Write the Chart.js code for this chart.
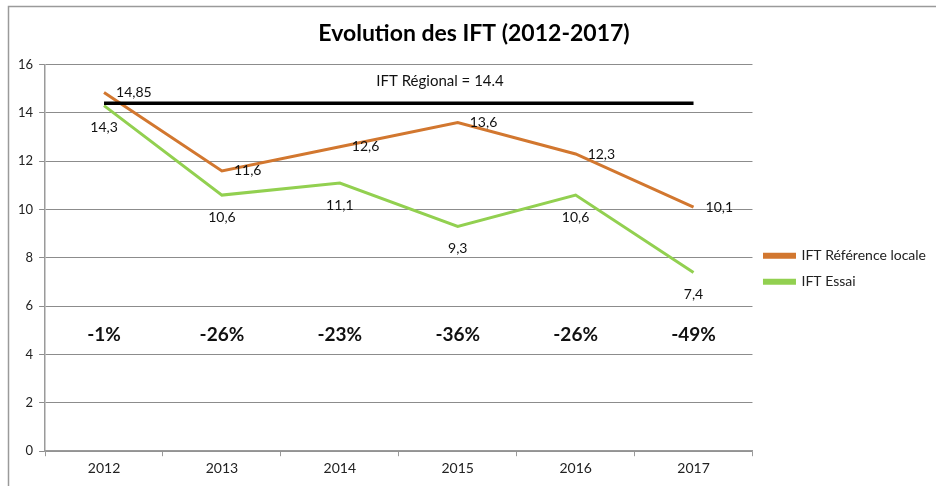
<!DOCTYPE html>
<html>
<head>
<meta charset="utf-8">
<script src="https://cdn.jsdelivr.net/npm/chart.js@4"></script>
<style>
  body { margin: 0; background: #fff; }
</style>
</head>
<body>
<canvas id="iftChart" width="936" height="486"></canvas>
<script>
Chart.defaults.font.family = 'Lato, "Liberation Sans", sans-serif';
Chart.defaults.color = '#222';

let years = ['2012', '2013', '2014', '2015', '2016', '2017'];
let refLocale = [14.85, 11.6, 12.6, 13.6, 12.3, 10.1];
let essai = [14.3, 10.6, 11.1, 9.3, 10.6, 7.4];
let regional = [14.4, 14.4, 14.4, 14.4, 14.4, 14.4];
let ecarts = ['-1%', '-26%', '-23%', '-36%', '-26%', '-49%'];
let regionalText = 'IFT Régional = 14.4';

let fmt = (v) => String(v).replace('.', ',');

// labels, percentages, and the outer frame drawn like the spreadsheet chart
const annotations = {
    id: 'annotations',
    beforeDraw: (chart) => {
        const c = chart.ctx;
        c.save();
        c.strokeStyle = '#9a9a9a';
        c.lineWidth = 1.5;
        c.beginPath();
        c.moveTo(8.5, 490);
        c.lineTo(8.5, 6.5);
        c.lineTo(940, 6.5);
        c.stroke();
        c.restore();
    },
    afterDatasetsDraw: (chart) => {
        const c = chart.ctx;
        const x = chart.scales.x;
        const y = chart.scales.y;
        c.save();
        c.fillStyle = '#111';
        c.font = '14px Lato, sans-serif';
        c.textBaseline = 'middle';
        c.textAlign = 'left';
        refLocale.forEach((v, i) => {
            c.fillText(fmt(v), x.getPixelForValue(i) + 12, y.getPixelForValue(v));
        });
        c.textAlign = 'center';
        essai.forEach((v, i) => {
            c.fillText(fmt(v), x.getPixelForValue(i), y.getPixelForValue(v) + 22);
        });
        c.font = 'bold 19px Lato, sans-serif';
        ecarts.forEach((t, i) => {
            c.fillText(t, x.getPixelForValue(i), y.getPixelForValue(4.8));
        });
        c.font = '15px Lato, sans-serif';
        c.fillText(regionalText, x.getPixelForValue(2.85), y.getPixelForValue(15.3));
        c.restore();
    }
};

new Chart(document.getElementById('iftChart'), {
    type: 'line',
    data: {
        labels: years,
        datasets: [{
            label: 'IFT Régional',
            data: regional,
            borderColor: '#000',
            borderWidth: 3.5,
            pointRadius: 0,
            order: 0
        }, {
            label: 'IFT Référence locale',
            data: refLocale,
            borderColor: '#D2772F',
            backgroundColor: '#D2772F',
            borderWidth: 3,
            pointRadius: 0,
            order: 1
        }, {
            label: 'IFT Essai',
            data: essai,
            borderColor: '#92D050',
            backgroundColor: '#92D050',
            borderWidth: 3,
            pointRadius: 0,
            order: 2
        }]
    },
    options: {
        responsive: false,
        animation: false,
        layout: {
            padding: { left: 12, right: 0, top: 12, bottom: 5 }
        },
        scales: {
            x: {
                offset: true,
                grid: {
                    offset: true,
                    drawOnChartArea: false,
                    color: '#9a9a9a',
                    tickLength: 5
                },
                border: { color: '#9a9a9a', width: 1.5 },
                ticks: { font: { size: 14 }, color: '#222', padding: 4 }
            },
            y: {
                min: 0,
                max: 16,
                ticks: { stepSize: 2, font: { size: 13 }, color: '#222', padding: 6 },
                grid: { color: '#8c8c8c', tickLength: 6 },
                border: { color: '#9a9a9a', width: 1.5 }
            }
        },
        plugins: {
            title: {
                display: true,
                text: 'Evolution des IFT (2012-2017)',
                font: { size: 23, weight: 'bold' },
                color: '#000',
                padding: { top: 8, bottom: 17 }
            },
            legend: {
                position: 'right',
                title: {
                    display: true,
                    text: ' ',
                    font: { size: 12 },
                    padding: { top: 15, bottom: 15 }
                },
                labels: {
                    boxWidth: 30,
                    boxHeight: 3,
                    padding: 12,
                    color: '#222',
                    font: { size: 14 },
                    filter: (item) => item.text !== 'IFT Régional'
                }
            },
            tooltip: { enabled: false }
        }
    },
    plugins: [annotations]
});
</script>
</body>
</html>
